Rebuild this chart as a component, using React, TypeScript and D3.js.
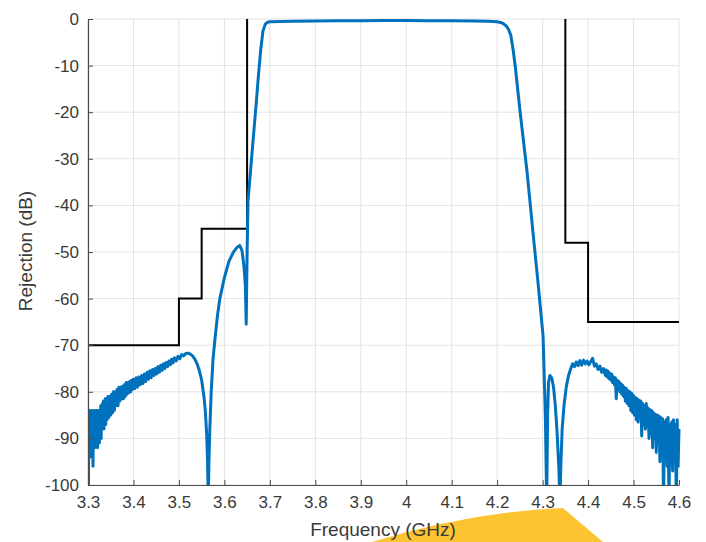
import React, { useEffect, useRef } from 'react';
import * as d3 from 'd3';

// axis ticks
const xTicks = [3.3, 3.4, 3.5, 3.6, 3.7, 3.8, 3.9, 4, 4.1, 4.2, 4.3, 4.4, 4.5, 4.6];
const yTicks = [-100, -90, -80, -70, -60, -50, -40, -30, -20, -10, 0];

// rejection mask (black)
const maskLowFreq = [3.3, 3.5, 3.5, 3.55, 3.55, 3.65, 3.65];
const maskLowDb = [-70, -70, -60, -60, -45, -45, 0];
const maskHighFreq = [4.35, 4.35, 4.4, 4.4, 4.6];
const maskHighDb = [0, -48, -48, -65, -65];

// measured response, lower stopband (noisy)
const lowFreq = [
  3.3, 3.301, 3.302, 3.303, 3.304, 3.305, 3.306, 3.307, 3.308, 3.309, 3.31, 3.311,
  3.312, 3.313, 3.314, 3.315, 3.316, 3.317, 3.318, 3.319, 3.32, 3.321, 3.322, 3.323,
  3.324, 3.325, 3.326, 3.327, 3.328, 3.329, 3.33, 3.331, 3.332, 3.333, 3.334, 3.335,
  3.336, 3.337, 3.338, 3.339, 3.34, 3.342, 3.344, 3.346, 3.348, 3.35, 3.352, 3.354,
  3.356, 3.358, 3.36, 3.362, 3.364, 3.366, 3.368, 3.37, 3.372, 3.374, 3.376, 3.378,
  3.38, 3.382, 3.384, 3.386, 3.388, 3.39, 3.392, 3.394, 3.396, 3.398, 3.4, 3.403,
  3.406, 3.409, 3.412, 3.415, 3.418, 3.421, 3.424, 3.427, 3.43, 3.433, 3.436, 3.439,
  3.442, 3.445, 3.448, 3.451, 3.454, 3.457, 3.46, 3.463, 3.466, 3.469, 3.472, 3.475,
  3.478, 3.481, 3.484, 3.487, 3.49, 3.494, 3.498, 3.502, 3.506, 3.51,
];
const lowDb = [
  -87, -100, -85, -92, -84, -94, -85, -90, -84, -93, -86, -96,
  -84, -89, -85, -92, -84, -90, -85, -91, -84, -92, -84, -88,
  -85, -91, -84, -89, -83, -90, -83, -88, -82.5, -87, -82, -88,
  -82, -86, -81.5, -87, -81.5, -86, -81, -85.5, -81, -85, -80.5, -84.5,
  -80, -84, -80, -83, -79.5, -83, -79, -82, -79, -81.5, -78.8, -81.5,
  -78.5, -81, -78, -80.5, -78, -80.2, -77.8, -80, -77.5, -79.5, -77.3, -79.3,
  -77, -79, -76.8, -78.5, -76.5, -78.2, -76.2, -77.8, -75.8, -77.3, -75.5, -77,
  -75.2, -76.5, -75, -76.2, -74.6, -75.8, -74.3, -75.4, -74, -75, -73.7, -74.6,
  -73.4, -74.2, -73, -73.8, -72.7, -73.4, -72.4, -72.9, -72, -72.3,
];

// lower skirt, spurious peak and rise into the passband
const skirtFreq = [
  3.515, 3.52, 3.525, 3.53, 3.535, 3.54, 3.545, 3.55, 3.555, 3.558, 3.561, 3.563,
  3.5645, 3.566, 3.568, 3.571, 3.575, 3.58, 3.585, 3.59, 3.6, 3.61, 3.62, 3.628,
  3.634, 3.639, 3.643, 3.646, 3.648, 3.65, 3.652, 3.656, 3.66, 3.665, 3.67, 3.675,
  3.68, 3.685, 3.69, 3.695, 3.7,
];
const skirtDb = [
  -71.8, -71.7, -71.9, -72.3, -73, -74, -75.5, -77.5, -81, -84, -89, -95,
  -104, -95, -88, -80, -73, -68, -63.5, -60, -55.5, -52, -50, -49,
  -48.6, -49.8, -53, -57, -65.5, -50, -39, -34.4, -29.7, -23.9, -18.1, -12,
  -6.5, -2.5, -1.1, -0.7, -0.6,
];

// passband + upper skirt
const passFreq = [
  3.75, 3.8, 3.85, 3.9, 3.95, 4, 4.05, 4.1, 4.15, 4.18, 4.2, 4.21,
  4.215, 4.22, 4.225, 4.23, 4.235, 4.24, 4.25, 4.266, 4.279, 4.29, 4.301, 4.306,
  4.309, 4.311, 4.313, 4.316, 4.32, 4.324, 4.328, 4.332, 4.336, 4.338, 4.34, 4.343,
  4.347, 4.352, 4.357,
];
const passDb = [
  -0.5, -0.45, -0.4, -0.35, -0.3, -0.3, -0.35, -0.4, -0.45, -0.5, -0.6, -0.8,
  -1.1, -1.5, -2.2, -3.5, -6.5, -10.3, -19.5, -33, -46, -56.7, -68, -85,
  -104, -85, -78, -76.5, -77, -79, -83, -89, -97, -104, -96, -88,
  -83, -79, -76.5,
];

// upper stopband (noisy)
const highFreq = [
  4.362, 4.366, 4.37, 4.374, 4.378, 4.382, 4.386, 4.39, 4.394, 4.398, 4.402, 4.406,
  4.41, 4.414, 4.418, 4.422, 4.426, 4.43, 4.434, 4.438, 4.44, 4.442, 4.444, 4.446,
  4.448, 4.45, 4.452, 4.454, 4.456, 4.458, 4.46, 4.462, 4.464, 4.466, 4.468, 4.47,
  4.472, 4.474, 4.476, 4.478, 4.48, 4.482, 4.484, 4.486, 4.488, 4.49, 4.492, 4.494,
  4.496, 4.498, 4.5, 4.502, 4.504, 4.506, 4.508, 4.51, 4.512, 4.514, 4.516, 4.518,
  4.52, 4.522, 4.524, 4.526, 4.528, 4.53, 4.532, 4.534, 4.536, 4.538, 4.54, 4.542,
  4.544, 4.546, 4.548, 4.55, 4.552, 4.554, 4.556, 4.558, 4.56, 4.562, 4.564, 4.566,
  4.568, 4.57, 4.572, 4.574, 4.576, 4.578, 4.58, 4.582, 4.584, 4.586, 4.588, 4.59,
  4.592, 4.594, 4.596, 4.598, 4.6,
];
const highDb = [
  -75, -74, -74.6, -73.6, -74.4, -73.3, -74.3, -73.2, -74, -73.4, -74.2, -73.5,
  -72.8, -74.5, -74, -75.2, -74.5, -75.8, -75, -76.5, -75.3, -76.8, -75.6, -77.2,
  -76, -77.5, -76.2, -78, -76.8, -78.5, -77, -81.5, -77.5, -79.5, -77.8, -80,
  -78.2, -80.5, -78.6, -81, -79, -82, -79.3, -82.5, -79.8, -83, -80, -84,
  -80.3, -84.5, -80.8, -85, -81.2, -86, -81.5, -86.5, -81.8, -85, -82, -89.5,
  -82.5, -87, -83, -88, -82.5, -87.5, -83.5, -90, -83.8, -89, -84, -92,
  -84.5, -90, -84.8, -93, -85, -91, -85.2, -95, -85.5, -92, -85.8, -104,
  -86.5, -94, -86, -96, -85.5, -104, -87, -95, -86.5, -97, -86, -93,
  -87, -104, -86, -96, -88,
];

export default function App() {
  const ref = useRef<SVGSVGElement>(null);

  useEffect(() => {
    const width = 706;
    const height = 542;
    const plot = { left: 88, right: 679, top: 19, bottom: 485 };
    const font = '"Liberation Sans", Arial, sans-serif';
    const textColor = '#3a3a3a';

    const svg = d3.select(ref.current);
    svg.selectAll('*').remove();
    svg.attr('width', width).attr('height', height);

    const xScale = d3.scaleLinear().domain([3.3, 4.6]).range([plot.left, plot.right]);
    const yScale = d3.scaleLinear().domain([-100, 0]).range([plot.bottom, plot.top]);

    // grid
    const grid = svg.append('g').attr('stroke', '#e3e3e3').attr('stroke-width', 1);
    grid
      .selectAll('line.vx')
      .data(xTicks)
      .enter()
      .append('line')
      .attr('x1', (d) => xScale(d))
      .attr('x2', (d) => xScale(d))
      .attr('y1', plot.top)
      .attr('y2', plot.bottom);
    grid
      .selectAll('line.hy')
      .data(yTicks)
      .enter()
      .append('line')
      .attr('x1', plot.left)
      .attr('x2', plot.right)
      .attr('y1', (d) => yScale(d))
      .attr('y2', (d) => yScale(d));

    svg
      .append('defs')
      .append('clipPath')
      .attr('id', 'plot-clip')
      .append('rect')
      .attr('x', plot.left)
      .attr('y', plot.top - 3)
      .attr('width', plot.right - plot.left + 2)
      .attr('height', plot.bottom - plot.top + 3);

    const line = d3
      .line<[number, number]>()
      .x((d) => xScale(d[0]))
      .y((d) => yScale(d[1]));

    const zip = (f: number[], v: number[]) => f.map((d, i) => [d, v[i]] as [number, number]);

    const body = svg.append('g').attr('clip-path', 'url(#plot-clip)');

    body
      .append('path')
      .attr('d', line(zip(maskLowFreq, maskLowDb)))
      .attr('fill', 'none')
      .attr('stroke', '#000')
      .attr('stroke-width', 2);
    body
      .append('path')
      .attr('d', line(zip(maskHighFreq, maskHighDb)))
      .attr('fill', 'none')
      .attr('stroke', '#000')
      .attr('stroke-width', 2);

    const response = [
      ...zip(lowFreq, lowDb),
      ...zip(skirtFreq, skirtDb),
      ...zip(passFreq, passDb),
      ...zip(highFreq, highDb),
    ];
    body
      .append('path')
      .attr('d', line(response))
      .attr('fill', 'none')
      .attr('stroke', '#0072BD')
      .attr('stroke-width', 3)
      .attr('stroke-linejoin', 'round');

    // decorative yellow shape at the bottom edge
    svg
      .append('path')
      .attr('d', 'M372,542 Q470,512 563,508 L603,542 Z')
      .attr('fill', '#fdc431');

    // axes
    const xAxis = d3
      .axisBottom(xScale)
      .tickValues(xTicks)
      .tickFormat((d) => String(d))
      .tickSizeInner(-5)
      .tickSizeOuter(0)
      .tickPadding(11);
    const yAxis = d3
      .axisLeft(yScale)
      .tickValues(yTicks)
      .tickFormat((d) => String(d))
      .tickSizeInner(-5)
      .tickSizeOuter(0)
      .tickPadding(9);

    const gx = svg
      .append('g')
      .attr('transform', `translate(0, ${plot.bottom})`)
      .call(xAxis);
    const gy = svg
      .append('g')
      .attr('transform', `translate(${plot.left}, 0)`)
      .call(yAxis);

    for (const g of [gx, gy]) {
      g.select('.domain').attr('stroke', '#4a4a4a').attr('stroke-width', 1.2);
      g.selectAll('.tick line').attr('stroke', '#4a4a4a');
      g.selectAll('.tick text')
        .attr('fill', textColor)
        .attr('font-size', 17)
        .attr('font-family', font);
    }

    svg
      .append('text')
      .attr('transform', 'translate(32, 251) rotate(-90)')
      .attr('text-anchor', 'middle')
      .attr('font-family', font)
      .attr('font-size', 19)
      .attr('fill', textColor)
      .text('Rejection (dB)');

    svg
      .append('text')
      .attr('x', 383)
      .attr('y', 536)
      .attr('text-anchor', 'middle')
      .attr('font-family', font)
      .attr('font-size', 19)
      .attr('fill', textColor)
      .text('Frequency (GHz)');
  }, []);

  return <svg ref={ref} style={{ position: 'absolute', left: 0, top: 0 }} />;
}
